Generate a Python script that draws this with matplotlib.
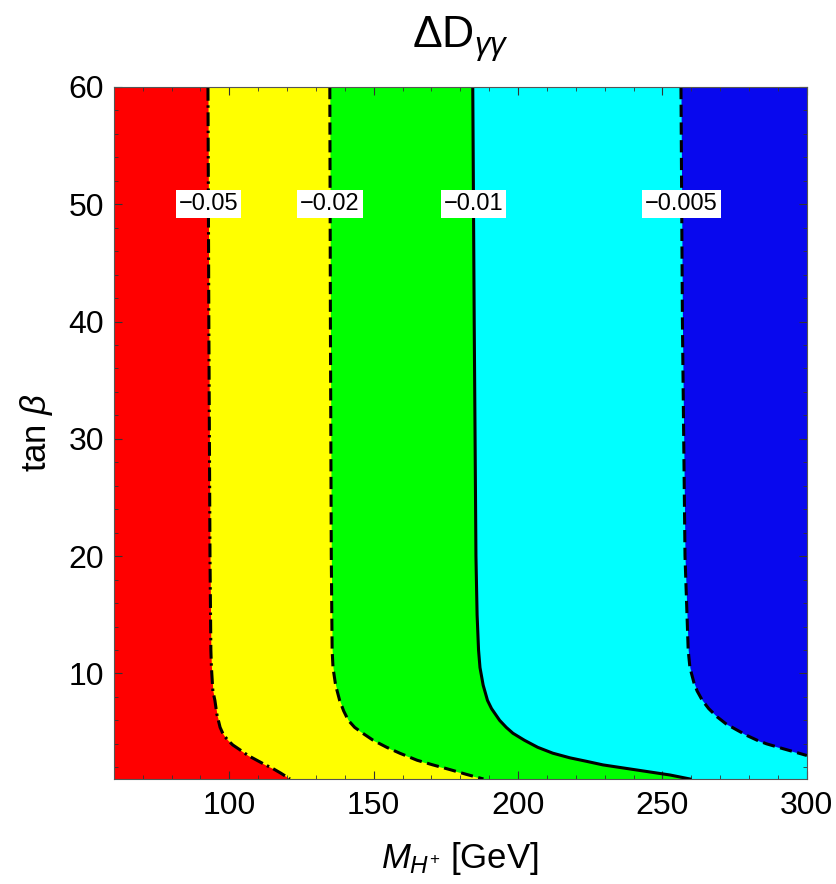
import matplotlib
matplotlib.use('Agg')
import matplotlib.pyplot as plt
import numpy as np

plt.rcParams['font.family'] = ['Liberation Sans', 'DejaVu Sans']
plt.rcParams['mathtext.fontset'] = 'custom'
plt.rcParams['mathtext.rm'] = 'Liberation Sans'
plt.rcParams['mathtext.it'] = 'Liberation Sans:italic'

# contour lines: (tan beta, M_H+)
tb_005 = [60, 40, 20, 12, 10.5, 8.5, 7.7, 6.5, 5.4, 4.8, 4.3, 3.9, 3.5, 3.0, 2.6, 2.2, 1.9, 1.5, 1.0]
m_005 = [92.6, 92.9, 93.3, 93.6, 93.8, 94.3, 95.0, 95.7, 96.8, 97.9, 99.5, 101.2, 103.6, 106.5,
         109.5, 112.5, 115.0, 117.8, 121.0]

tb_002 = [60, 40, 20, 12, 10.5, 9.0, 7.7, 6.8, 6.0, 5.4, 4.9, 4.3, 3.7, 3.2, 2.6, 2.2, 1.8, 1.4, 1.0]
m_002 = [134.8, 135.0, 135.3, 135.6, 135.9, 136.8, 138.2, 139.6, 141.2, 143.4, 146.2, 149.8, 154.5,
         159.0, 165.0, 170.5, 176.4, 182.0, 188.0]

tb_001 = [60, 40, 20, 15, 12, 10.5, 9.0, 7.7, 7.0, 6.0, 5.4, 4.9, 4.3, 3.7, 3.2, 2.8, 2.5, 2.2,
          1.77, 1.34, 1.0]
m_001 = [184.3, 184.8, 185.4, 185.8, 186.3, 186.8, 187.9, 189.4, 190.8, 193.6, 195.9, 198.2, 202.2,
         206.8, 212.0, 218.0, 223.8, 229.4, 241.0, 252.6, 259.5]

tb_0005 = [60, 40, 20, 12, 10.5, 9.2, 8.5, 7.7, 7.0, 6.3, 5.7, 5.2, 4.7, 4.3, 4.0, 3.6, 3.3, 3.0]
m_0005 = [256.4, 256.9, 257.8, 258.9, 259.5, 260.9, 262.0, 263.8, 266.0, 268.9, 272.0, 275.6, 279.3,
          282.8, 286.0, 291.5, 295.8, 300.0]

levels = ['\u22120.05', '\u22120.02', '\u22120.01', '\u22120.005']
label_tb = 50

fig = plt.figure(figsize=(8.37, 8.84), dpi=100)
ax = fig.add_axes([0.136, 0.1188, 0.828, 0.7828])
ax.set_xlim(60, 300)
ax.set_ylim(1, 60)
ax.set_facecolor('#00ffff')

ax.fill_betweenx(tb_0005, m_0005, 300, color='#0808ee', lw=0)
ax.fill_betweenx(tb_001, 60, m_001, color='#00ff00', lw=0)
ax.fill_betweenx(tb_002, 60, m_002, color='#ffff00', lw=0)
ax.fill_betweenx(tb_005, 60, m_005, color='#ff0000', lw=0)

ax.plot(m_005, tb_005, color='k', lw=2.2, ls=(0, (4.5, 1.5, 0.8, 1.5)))
ax.plot(m_002, tb_002, color='k', lw=2.2, ls=(0, (4, 1.8)))
ax.plot(m_001, tb_001, color='k', lw=2.2, ls='-')
ax.plot(m_0005, tb_0005, color='k', lw=2.2, ls=(0, (4, 1.8)))

for lab, m in zip(levels, [m_005, m_002, m_001, m_0005]):
    mx = np.interp(label_tb, [20, 40, 60], [m[2], m[1], m[0]])
    ax.text(mx, label_tb, lab, ha='center', va='center', fontsize=17, zorder=5,
            bbox=dict(facecolor='white', edgecolor='none', pad=2))

ax.set_xticks([100, 150, 200, 250, 300])
ax.set_xticks(np.arange(60, 301, 10), minor=True)
ax.set_yticks([10, 20, 30, 40, 50, 60])
ax.set_yticks(np.arange(2, 61, 2), minor=True)
ax.tick_params(which='both', direction='in', top=True, right=True, labelsize=23, color='#333333')
ax.tick_params(which='major', length=6, width=0.8)
ax.tick_params(which='minor', length=3, width=0.6)
ax.tick_params(axis='x', pad=9)
ax.tick_params(axis='y', pad=7)
for s in ax.spines.values():
    s.set_color('#555555')
    s.set_linewidth(0.8)

ax.set_xlabel(r'$M_{H^{+}}$ [GeV]', fontsize=25, labelpad=13)
ax.set_ylabel(r'tan $\beta$', fontsize=25, labelpad=10)
ax.set_title(r'$\Delta\mathrm{D}_{\gamma\gamma}$', fontsize=32, pad=28)

fig.savefig('out.png', dpi=100)
